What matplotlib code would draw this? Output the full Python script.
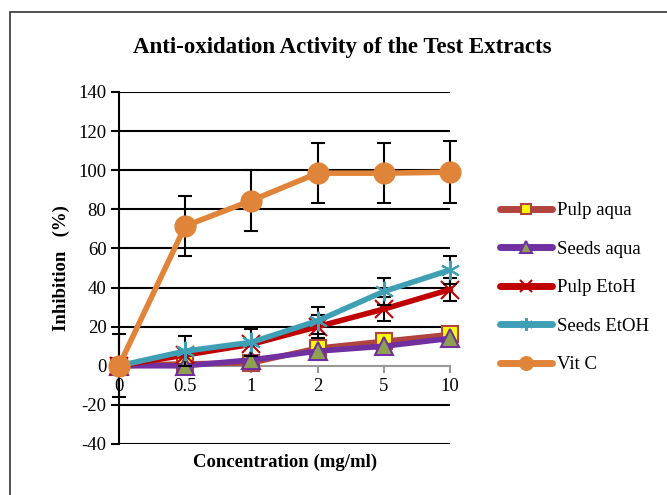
import numpy as np
import matplotlib.pyplot as plt
from matplotlib.patches import Rectangle
from matplotlib.lines import Line2D

plt.rcParams['font.family'] = ['Liberation Serif', 'DejaVu Serif']
plt.rcParams['axes.unicode_minus'] = False

conc = ['0', '0.5', '1', '2', '5', '10']
pulp_aqua = [0, 1, 1.5, 9, 12.5, 16]
seeds_aqua = [0, 0, 3, 7.5, 10, 14]
pulp_etoh = [0, 5.5, 11, 20, 29, 39]
pulp_etoh_err = [0, 0, 0, 6, 6, 6]
seeds_etoh = [0, 7.5, 12, 23, 38, 49]
seeds_etoh_err = [0, 7.5, 7, 7, 7, 7]
vitc = [0, 71.5, 84.5, 98.5, 98.5, 99]
vitc_err = [16, 15.5, 15.5, 15.5, 15.5, 16]
names = ['Pulp aqua', 'Seeds aqua', 'Pulp EtoH', 'Seeds EtOH', 'Vit C']

x = np.arange(len(conc))

fig = plt.figure(figsize=(6.67, 4.95), dpi=100)
ax = fig.add_axes([119/667, 1-444/495, (450-119)/667, (444-92)/495])
ax.set_xlim(0, 5)
ax.set_ylim(-40, 140)

# frame of the chart area
fig.patches.append(Rectangle((10/667, -0.1), 1.1, 1-12/495+0.1, transform=fig.transFigure,
                             fill=False, ec='#333333', lw=1.2))

for yv in range(-40, 141, 20):
    if yv != 0:
        ax.axhline(yv, color='black', lw=1.5, zorder=1)

styles = [
    dict(color='#B0443F', marker='s', ms=12, mfc='#FFFF00', mec='#B0443F', mew=1.5),
    dict(color='#7030A0', marker='^', ms=13, mfc='#8FA052', mec='#7030A0', mew=1.5),
    dict(color='#C00000', marker='x', ms=13, mew=1.5),
    dict(color='#3F9FB5', marker=(6, 2, 0), ms=14, mew=1.5),
    dict(color='#E0843A', marker='o', ms=15),
]
eb = dict(ecolor='black', elinewidth=1.5, capsize=5, capthick=1.5)

ax.plot(x, pulp_aqua, '-', lw=4, clip_on=False, zorder=3, **styles[0])
ax.plot(x, seeds_aqua, '-', lw=4, clip_on=False, zorder=4, **styles[1])
ax.errorbar(x, pulp_etoh, yerr=pulp_etoh_err, fmt='-', lw=4, clip_on=False, zorder=5,
            **styles[2], **eb)
ax.errorbar(x, seeds_etoh, yerr=seeds_etoh_err, fmt='-', lw=4, clip_on=False, zorder=6,
            **styles[3], **eb)
ax.errorbar(x, vitc, yerr=vitc_err, fmt='-', lw=4, clip_on=False, zorder=7, **styles[4], **eb)

for s in ['top', 'right', 'bottom']:
    ax.spines[s].set_visible(False)
ax.spines['left'].set_color('black')
ax.spines['left'].set_linewidth(1.5)
ax.axhline(0, color='#999999', lw=1.5, zorder=2)
for xi in x:
    ax.plot([xi, xi], [0, -3], color='#999999', lw=1.5, clip_on=False, zorder=2)

ax.set_yticks(range(-40, 141, 20))
ax.tick_params(axis='y', direction='out', length=6, width=1.5, labelsize=13.5, pad=3)
ax.set_xticks([])
for xi, lab in zip(x, conc):
    ax.text(xi, -6.5, lab, ha='center', va='top', fontsize=13.5)

ax.set_ylabel('Inhibition   (%)', fontsize=13.5, fontweight='bold', labelpad=6)
fig.text(285/667, 1-462/495, 'Concentration (mg/ml)', ha='center', va='center',
         fontsize=13.5, fontweight='bold')
fig.text(342/667, 1-47/495, 'Anti-oxidation Activity of the Test Extracts', ha='center',
         va='center', fontsize=16.5, fontweight='bold')

handles = []
for st in styles:
    d = dict(st)
    d['ms'] = d['ms'] * 0.65
    handles.append(Line2D([], [], lw=5, solid_capstyle='round', **d))
fig.legend(handles, names, loc='upper left', bbox_to_anchor=(500/667, 1-202/495), frameon=False,
           fontsize=13.5, handlelength=2.8, labelspacing=1.14, handletextpad=0.25,
           borderpad=0, borderaxespad=0)

fig.savefig('out.png', dpi=100)
